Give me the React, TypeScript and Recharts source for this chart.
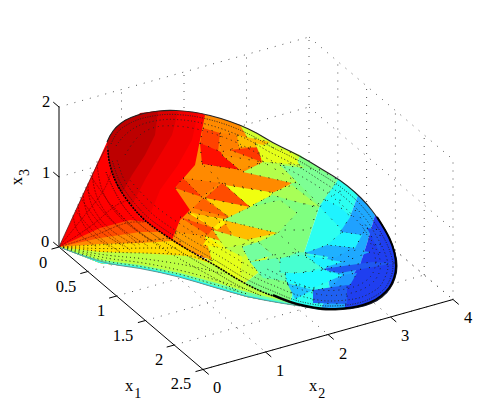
import React from 'react';
import { ComposedChart, Line, Scatter, XAxis, YAxis } from 'recharts';

type P = number[];
type Patch = { level: number; pts: P[] };

// axis ticks, in data units
const x1Ticks = [0, 0.5, 1, 1.5, 2, 2.5];
const x2Ticks = [0, 1, 2, 3, 4];
const x3Ticks = [0, 1, 2];

// view transform of the 3-D box onto the picture plane
const origin = [59, 247];
const x1Dir = [57.6, 49];
const x2Dir = [62.5, -17.5];
const x3Dir = [0, -70];
const project = (a: number, b: number, c: number): P => [
  origin[0] + a * x1Dir[0] + b * x2Dir[0] + c * x3Dir[0],
  origin[1] + a * x1Dir[1] + b * x2Dir[1] + c * x3Dir[1],
];

const rim: P[] = [[107,142],[110,135],[116,127],[125,120],[137,115],[150,112],[167,110],[185,111],[200,113],[220,118],[240,125],[257,133],[273,143],[290,151],[307,160],[323,170],[340,180],[355,192],[367,204],[377,217],[386,231],[393,246],[397,260],[397,272],[393,284],[387,293],[377,301],[365,306],[350,309],[335,310],[323,310],[305,307],[290,303],[273,296]];
const rimHeavy: P[] = [[377,217],[386,231],[393,246],[396,260],[396,272],[392,284],[386,292],[376,300],[364,305],[350,308],[335,309],[323,309],[305,306],[290,302],[273,295]];
const rimInnerA: P[] = [[111,144],[114,137],[119,130],[128,124],[139,119],[152,116],[167,114],[185,115],[199,117],[219,122],[238,129],[255,137],[271,147],[288,155],[305,164],[321,174],[337,184],[352,196],[364,208],[373,220],[382,234],[389,248],[393,261],[393,271],[389,282],[384,290],[374,297],[363,302],[349,305],[335,306],[323,306],[306,303],[291,299],[275,292],[258,285],[242,277],[215,260],[185,243],[162,228],[143,214],[120,185],[112,160]];
const rimInnerB: P[] = [[116,146],[120,140],[125,135],[132,129],[142,124],[154,121],[167,119],[185,120],[198,122],[217,127],[236,134],[253,142],[269,152],[286,160],[303,169],[318,179],[334,189],[348,200],[360,212],[369,223],[377,237],[384,250],[388,262],[388,270],[384,280],[380,287],[371,293],[360,298],[348,300],[335,301],[323,301],[308,298],[293,294],[277,287],[260,280],[245,272],[218,255],[188,238],[165,224],[147,210],[124,182],[117,160]];
const rimInnerC: P[] = [[125,155],[135,138],[150,128],[167,125],[196,128],[233,140],[266,158],[300,175],[330,194],[355,217],[372,240],[382,262],[378,278],[365,289],[345,295],[323,296],[295,288],[262,274],[222,250],[192,232],[152,205],[128,178]];
const rimInnerD: P[] = [[362,225],[375,250],[376,270],[365,283],[345,290],[320,291],[295,283],[265,268]];
const frontRim: P[] = [[108,150],[108,160],[117,187],[140,217],[160,232],[183,247],[213,264],[240,281],[260,291],[273,296]];
const frontOuterA: P[] = [[106,172],[116,197],[136,222],[158,238],[181,252],[210,269],[238,286],[262,296]];
const frontOuterB: P[] = [[112,205],[132,228],[155,244],[178,258],[207,274],[236,290]];
const silhouetteLeft: P[] = [[59,247],[107,142],[108,150]];

// cone side: boundaries between colour bands, running from the apex
const coneEdge: P[] = [[59,247],[100,263],[140,268],[180,277],[213,287],[247,297],[280,303],[300,306]];
const coneBands: Patch[] = [
  { level: 0.875, pts: [[59,247],[107,142],[108,160],[117,187],[140,217],[160,232],[183,247],[213,264],[240,281],[273,296],[300,306],[280,303],[247,297],[213,287],[180,277],[140,268],[100,263]] },
  { level: 0.8, pts: [[59,247],[100,228],[130,220],[147,222],[160,232],[183,247],[213,264],[240,281],[273,296],[300,306],[280,303],[247,297],[213,287],[180,277],[140,268],[100,263]] },
  { level: 0.74, pts: [[59,247],[100,238],[140,232],[160,232],[183,247],[213,264],[240,281],[273,296],[300,306],[280,303],[247,297],[213,287],[180,277],[140,268],[100,263]] },
  { level: 0.66, pts: [[59,247],[100,244],[140,243],[172,241],[183,247],[213,264],[240,281],[273,296],[300,306],[280,303],[247,297],[213,287],[180,277],[140,268],[100,263]] },
  { level: 0.56, pts: [[59,247],[100,252],[140,253],[187,256],[213,264],[240,281],[273,296],[300,306],[280,303],[247,297],[213,287],[180,277],[140,268],[100,263]] },
  { level: 0.46, pts: [[59,247],[100,260],[140,265],[180,273],[213,282],[247,292],[280,300],[300,306],[280,303],[247,297],[213,287],[180,277],[140,268],[100,263]] },
  { level: 0.36, pts: [[59,247],[100,262],[140,267],[180,275.5],[213,285.5],[247,295.5],[280,302],[300,306],[280,303],[247,297],[213,287],[180,277],[140,268],[100,263]] },
];
const coneRows: P[][] = [
  [[59,247],[100,261],[140,266],[180,274],[213,284],[247,294]],
  [[59,247],[100,258],[140,262],[180,270],[213,279],[245,289]],
  [[59,247],[100,255],[140,258],[187,265],[225,274]],
  [[59,247],[100,252],[140,253],[185,254],[208,261]],
  [[59,247],[100,249],[140,248],[178,248]],
  [[59,247],[100,245],[140,242],[168,238]],
];
const coneRings: P[][] = [
  [[97,161],[98,177],[105,199],[124,223],[161,246]],
  [[92,172],[93,186],[100,205],[116,226],[148,246]],
  [[88,183],[88,195],[94,211],[108,229],[136,246]],
  [[83,193],[84,203],[88,217],[100,232],[123,246]],
  [[78,204],[79,212],[82,223],[91,235],[110,247]],
  [[73,215],[74,221],[76,229],[83,238],[97,247]],
];
const coneLens: P[][] = [
  [[59,247],[85,215],[105,190],[112,170]],
  [[59,247],[90,228],[115,205],[128,200]],
  [[59,247],[95,236],[125,222],[145,222]],
  [[90,175],[100,190],[118,215],[150,240]],
  [[85,187],[97,205],[115,225],[140,245]],
  [[80,197],[92,215],[110,235],[130,250]],
  [[75,210],[87,225],[102,240],[120,252]],
];

// coarse colour zones on the flat face, then the mesh triangles on top
const faceZones: Patch[] = [
  { level: 0.875, pts: [[107,142],[125,120],[167,110],[200,113],[240,125],[262,162],[250,205],[225,245],[205,258],[183,247],[160,232],[140,217],[117,187],[108,160]] },
  { level: 0.89, pts: [[167,110],[185,111],[198,113],[192,140],[178,165],[160,190],[147,222],[140,217],[117,187],[125,170],[150,150]] },
  { level: 0.91, pts: [[140,113],[167,110],[178,112],[172,135],[160,155],[146,178],[132,205],[117,187],[112,160],[125,130]] },
  { level: 0.94, pts: [[107,142],[110,135],[116,127],[125,120],[137,115],[150,112],[158,111],[155,135],[145,155],[132,175],[122,193],[117,187],[108,160]] },
  { level: 0.74, pts: [[205,115],[220,118],[240,125],[257,133],[262,162],[250,205],[225,245],[205,258],[172,240],[180,220],[190,210],[175,188],[195,165]] },
  { level: 0.58, pts: [[240,125],[257,133],[273,143],[290,151],[300,155],[290,185],[280,230],[262,270],[245,283],[213,264],[205,258],[225,245],[250,205],[262,162]] },
  { level: 0.5, pts: [[300,155],[307,160],[323,170],[335,178],[320,205],[305,250],[295,285],[290,303],[273,296],[260,291],[245,283],[262,270],[280,230],[290,185]] },
  { level: 0.39, pts: [[335,178],[340,180],[355,192],[358,195],[345,230],[325,262],[330,290],[320,310],[305,307],[290,303],[295,285],[305,250],[320,205]] },
  { level: 0.27, pts: [[358,195],[367,204],[375,215],[368,240],[360,265],[345,285],[345,309],[335,310],[323,310],[320,310],[330,290],[325,262],[345,230]] },
  { level: 0.14, pts: [[375,215],[377,217],[386,231],[393,246],[397,260],[397,272],[393,284],[387,293],[377,301],[365,306],[350,309],[345,309],[345,285],[360,265],[368,240]] },
];
const meshPatches: Patch[] = [
  { level: 0.72, pts: [[175,232],[205,236],[215,262],[183,247]] },
  { level: 0.6, pts: [[205,236],[243,248],[240,281],[213,264]] },
  { level: 0.81, pts: [[203,128],[220,133],[218,152],[200,143]] },
  { level: 0.75, pts: [[220,133],[237,135],[239,147],[221,152]] },
  { level: 0.69, pts: [[237,135],[270,142],[260,147],[239,147]] },
  { level: 0.86, pts: [[200,143],[221,152],[222,155],[240,170],[202,164]] },
  { level: 0.82, pts: [[230,150],[258,147],[262,162]] },
  { level: 0.73, pts: [[222,155],[262,162],[240,170]] },
  { level: 0.66, pts: [[258,147],[278,158],[262,162]] },
  { level: 0.6, pts: [[255,143],[290,152],[300,165],[263,162]] },
  { level: 0.55, pts: [[263,162],[300,165],[322,180],[292,183]] },
  { level: 0.74, pts: [[202,164],[241,170],[292,183],[273,193],[223,183]] },
  { level: 0.55, pts: [[243,172],[263,162],[297,182],[292,183]] },
  { level: 0.61, pts: [[225,185],[275,193],[250,207]] },
  { level: 0.8, pts: [[222,183],[250,207],[205,198]] },
  { level: 0.76, pts: [[183,178],[220,183],[202,197]] },
  { level: 0.82, pts: [[183,178],[202,197],[175,188]] },
  { level: 0.67, pts: [[205,198],[250,207],[230,218]] },
  { level: 0.78, pts: [[203,198],[230,218],[193,208]] },
  { level: 0.64, pts: [[188,213],[230,220],[217,230]] },
  { level: 0.8, pts: [[180,217],[213,228],[208,235]] },
  { level: 0.68, pts: [[190,212],[222,220],[213,228]] },
  { level: 0.69, pts: [[223,220],[277,233],[237,242]] },
  { level: 0.57, pts: [[213,230],[255,242],[225,248]] },
  { level: 0.64, pts: [[208,237],[223,248],[203,245]] },
  { level: 0.55, pts: [[225,248],[255,242],[243,257]] },
  { level: 0.54, pts: [[272,193],[292,185],[320,207],[270,197]] },
  { level: 0.5, pts: [[253,205],[272,195],[318,208],[310,230],[265,230]] },
  { level: 0.52, pts: [[223,220],[250,207],[280,200],[297,213],[278,233]] },
  { level: 0.5, pts: [[258,242],[278,233],[298,252],[273,255]] },
  { level: 0.47, pts: [[242,247],[258,242],[273,255],[250,262]] },
  { level: 0.44, pts: [[298,252],[310,253],[310,273],[280,260]] },
  { level: 0.45, pts: [[250,262],[277,258],[293,282],[263,278]] },
  { level: 0.39, pts: [[280,262],[310,273],[310,292],[293,282]] },
  { level: 0.48, pts: [[280,165],[300,185],[320,205],[338,180],[320,170]] },
  { level: 0.38, pts: [[320,207],[340,190],[340,210]] },
  { level: 0.36, pts: [[325,200],[340,207],[362,227],[342,230],[320,207]] },
  { level: 0.26, pts: [[355,210],[367,227],[362,235],[340,232]] },
  { level: 0.36, pts: [[342,232],[362,235],[355,248],[327,245]] },
  { level: 0.28, pts: [[305,253],[327,245],[353,248],[335,258]] },
  { level: 0.16, pts: [[367,228],[380,230],[380,253]] },
  { level: 0.27, pts: [[370,252],[343,262],[355,250]] },
  { level: 0.36, pts: [[305,255],[343,262],[322,268]] },
  { level: 0.17, pts: [[322,269],[372,262],[395,263],[340,273]] },
  { level: 0.42, pts: [[280,258],[303,255],[322,268],[300,273],[280,273]] },
  { level: 0.37, pts: [[285,273],[300,273],[323,270],[343,275],[313,288],[287,283]] },
  { level: 0.25, pts: [[343,275],[357,273],[350,285],[330,288]] },
  { level: 0.18, pts: [[313,290],[347,285],[347,304],[313,303]] },
  { level: 0.3, pts: [[287,283],[313,290],[295,299]] },
];

// labels
const x1Labels = ['0', '0.5', '1', '1.5', '2', '2.5'];
const x2Labels = ['0', '1', '2', '3', '4'];
const x3Labels = ['0', '1', '2'];
const x1LabelAt: P[] = [[43,262],[66,286],[101,310],[123,335],[159,359],[181,383]];
const x2LabelAt: P[] = [[217,387],[280,370],[343,353],[405,335],[468,317]];
const x3LabelAt: P[] = [[45,241],[46,172],[46,101]];
const titles = [
  { x: 133, y: 391, sub: '1', rotate: 0 },
  { x: 317, y: 391, sub: '2', rotate: 0 },
  { x: 22, y: 177, sub: '3', rotate: -90 },
];

const clamp = (v: number) => Math.max(0, Math.min(1, v));
// jet colormap, cool end slightly lifted like the reference
const jet = (l: number) => {
  const r = clamp(Math.min(4 * l - 1.5, -4 * l + 4.5));
  const g = clamp(Math.min(4 * l - 0.5, -4 * l + 3.5));
  const b = clamp(Math.min(4 * l + 0.5, -4 * l + 2.5));
  const liftR = l < 0.5 ? 0.12 : 0;
  const liftG = l < 0.5 ? 0.2 : 0;
  return `rgb(${Math.round((liftR + (1 - liftR) * r) * 255)},${Math.round((liftG + (1 - liftG) * g) * 255)},${Math.round(b * (l < 0.2 ? 0.94 : 1) * 255)})`;
};

const toRows = (pts: P[]) => pts.map(([x, y]) => ({ x, y }));

// round the corners of a polyline through the points Line has already scaled
const smooth = (pts: any[]) => {
  let d = `M${pts[0].x},${pts[0].y}`;
  for (let i = 1; i < pts.length - 1; i++) {
    d += `Q${pts[i].x},${pts[i].y} ${(pts[i].x + pts[i + 1].x) / 2},${(pts[i].y + pts[i + 1].y) / 2}`;
  }
  const last = pts[pts.length - 1];
  return `${d}L${last.x},${last.y}`;
};

// plain segments below the surface
const path = (key: string, pts: P[], stroke: string, width: number, dash?: string) => (
  <Line
    key={key}
    data={toRows(pts)}
    dataKey="y"
    stroke={stroke}
    strokeWidth={width}
    strokeDasharray={dash}
    dot={false}
    activeDot={false}
    legendType="none"
    isAnimationActive={false}
  />
);

// Line keeps dots above its stroke, so everything on the surface goes through dot to stack in order
const overlay = (key: string, pts: P[], draw: (points: any[]) => React.ReactElement) => (
  <Line
    key={key}
    data={toRows(pts)}
    dataKey="y"
    stroke="none"
    activeDot={false}
    legendType="none"
    isAnimationActive={false}
    dot={(d: any) => (d.index === 0 ? <g key={key}>{draw(d.points)}</g> : <g key={`${key}-${d.index}`} />)}
  />
);

const patch = (key: string, p: Patch, edge: boolean) =>
  overlay(key, p.pts, (points) => (
    <polygon
      points={points.map((q: any) => `${q.x},${q.y}`).join(' ')}
      fill={jet(p.level)}
      stroke={edge ? '#111' : 'none'}
      strokeWidth={edge ? 1 : 0}
      strokeDasharray={edge ? '1 8' : undefined}
    />
  ));

const curve = (key: string, pts: P[], stroke: string, width: number, dash?: string) =>
  overlay(key, pts, (points) => (
    <path d={smooth(points)} fill="none" stroke={stroke} strokeWidth={width} strokeDasharray={dash} />
  ));

// dotted box grid
const gridLines: P[][] = [
  ...x3Ticks.flatMap((c) => [
    [project(0, 0, c), project(0, 4, c)],
    [project(0, 4, c), project(2.5, 4, c)],
  ]),
  ...x2Ticks.slice(1).flatMap((b) => [
    [project(0, b, 0), project(2.5, b, 0)],
    [project(0, b, 0), project(0, b, 2)],
  ]),
  ...x1Ticks.slice(1).flatMap((a) => [
    [project(a, 0, 0), project(a, 4, 0)],
    [project(a, 4, 0), project(a, 4, 2)],
  ]),
];

const axisLines: P[][] = [
  [project(0, 0, 0), project(2.5, 0, 0)],
  [project(2.5, 0, 0), project(2.5, 4, 0)],
  [project(0, 0, 0), project(0, 0, 2)],
  ...x1Ticks.map((a) => [project(a, 0, 0), project(a, -0.12, 0)]),
  ...x2Ticks.map((b) => [project(2.5, b, 0), project(2.6, b, 0)]),
  ...x3Ticks.map((c) => [project(0, 0, c), project(-0.1, 0, c)]),
];

const tickTexts = [
  ...x1Labels.map((t, i) => ({ x: x1LabelAt[i][0], y: x1LabelAt[i][1], t })),
  ...x2Labels.map((t, i) => ({ x: x2LabelAt[i][0], y: x2LabelAt[i][1], t })),
  ...x3Labels.map((t, i) => ({ x: x3LabelAt[i][0], y: x3LabelAt[i][1], t })),
];

const font = '"Liberation Serif", serif';

export default function App() {
  return (
    <div style={{ position: 'absolute', left: 0, top: 0, background: '#fff' }}>
      <ComposedChart width={480} height={413} margin={{ top: 0, right: 0, bottom: 0, left: 0 }}>
        <XAxis hide type="number" dataKey="x" domain={[0, 480]} allowDataOverflow />
        <YAxis hide type="number" dataKey="y" domain={[0, 413]} reversed allowDataOverflow />

        {gridLines.map((g, i) => path(`g${i}`, g, '#555', 1, '1 7'))}
        {axisLines.map((a, i) => path(`a${i}`, a, '#000', 1))}

        {coneBands.map((b, i) => patch(`c${i}`, b, false))}
        {coneRings.map((r, i) => curve(`ring${i}`, r, 'rgba(50,0,0,0.6)', 0.8, '2 1'))}
        {coneLens.map((r, i) => curve(`lens${i}`, r, 'rgba(50,0,0,0.55)', 0.8, '2 1'))}
        {coneRows.map((r, i) => curve(`row${i}`, r, '#111', 1, '1 3'))}

        {faceZones.map((z, i) => patch(`z${i}`, z, false))}
        {meshPatches.map((m, i) => patch(`m${i}`, m, true))}

        {curve('rimD', rimInnerD, '#222', 1, '1 4')}
        {curve('rimC', rimInnerC, '#222', 1, '1 4')}
        {curve('rimB', rimInnerB, '#222', 1, '1 2.5')}
        {curve('rimA', rimInnerA, '#222', 1, '1 1.5')}
        {curve('outerB', frontOuterB, '#111', 1, '1 2.5')}
        {curve('outerA', frontOuterA, '#111', 1, '1 1.5')}
        {curve('front', frontRim, '#000', 1.6, '2 1')}
        {curve('edge', coneEdge, '#5a9a9a', 1)}
        {curve('side', silhouetteLeft, '#5a2020', 0.8)}
        {curve('rim', rim, '#222', 1.1)}
        {curve('rimHeavy', rimHeavy, '#000', 2)}

        <Scatter
          data={tickTexts}
          isAnimationActive={false}
          legendType="none"
          shape={(s: any) => (
            <text x={s.cx} y={s.cy} dy="0.35em" textAnchor="middle" fontFamily={font} fontSize={16.5} fill="#000">
              {s.payload.t}
            </text>
          )}
        />
        <Scatter
          data={titles}
          isAnimationActive={false}
          legendType="none"
          shape={(s: any) => (
            <text
              transform={`translate(${s.cx},${s.cy}) rotate(${s.payload.rotate})`}
              textAnchor="middle"
              fontFamily={font}
              fontSize={16.5}
              fill="#000"
            >
              x
              <tspan dx="1" dy="7" fontSize={14}>
                {s.payload.sub}
              </tspan>
            </text>
          )}
        />
      </ComposedChart>
    </div>
  );
}
